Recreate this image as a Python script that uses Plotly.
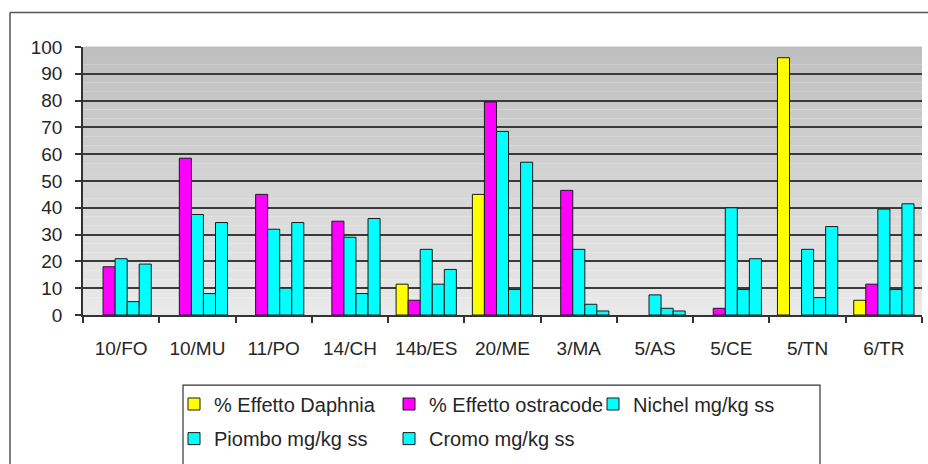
import plotly.graph_objects as go

categories = ["10/FO", "10/MU", "11/PO", "14/CH", "14b/ES", "20/ME", "3/MA", "5/AS", "5/CE", "5/TN", "6/TR"]
daphnia = [None, None, None, None, 11.5, 45, None, None, None, 96, 5.5]
ostracode = [18, 58.5, 45, 35, 5.5, 79.5, 46.5, None, 2.5, None, 11.5]
nichel = [21, 37.5, 32, 29, 24.5, 68.5, 24.5, 7.5, 40, 24.5, 39.5]
piombo = [5, 8, 10, 8, 11.5, 9.5, 4, 2.5, 9.5, 6.5, 9.5]
cromo = [19, 34.5, 34.5, 36, 17, 57, 1.5, 1.5, 21, 33, 41.5]
y_ticks = [0, 10, 20, 30, 40, 50, 60, 70, 80, 90, 100]

series = [
    ("% Effetto Daphnia", daphnia, "#ffff00", "legend"),
    ("% Effetto ostracode", ostracode, "#ff00ff", "legend"),
    ("Nichel mg/kg ss", nichel, "#00ffff", "legend3"),
    ("Piombo mg/kg ss", piombo, "#00ffff", "legend2"),
    ("Cromo mg/kg ss", cromo, "#00ffff", "legend2"),
]

W, H = 928, 464
L, R, T, B = 83, 6, 47, 146
pw, ph = W - L - R, H - T - B

def px_x(p):
    return (p - L) / pw

def px_y(p):
    return (H - B - p) / ph

fig = go.Figure()
for name, vals, color, lg in series:
    fig.add_trace(go.Bar(
        x=categories, y=vals, name=name, legend=lg,
        marker=dict(color=color, line=dict(color="#1a1a1a", width=1)),
    ))

shapes = []
n = 30
c_top, c_bot = 190, 234
for i in range(n):
    f = (i + 0.5) / n
    g = round(c_bot + (c_top - c_bot) * f)
    shapes.append(dict(type="rect", xref="x domain", yref="y domain",
                       x0=0, x1=1, y0=i / n, y1=(i + 1) / n,
                       fillcolor=f"rgb({g},{g},{g})", line=dict(width=0), layer="below"))
# hide the gridline at the top edge of the plot area
shapes.append(dict(type="rect", xref="x domain", yref="y domain",
                   x0=0.002, x1=1, y0=0.993, y1=1.002,
                   fillcolor=f"rgb({c_top},{c_top},{c_top})", line=dict(width=0), layer="above"))
# outer chart frame (left and top edges visible, the rest runs off the picture)
shapes.append(dict(type="line", xref="paper", yref="paper",
                   x0=px_x(10), x1=px_x(10), y0=px_y(500), y1=px_y(12),
                   line=dict(color="#555555", width=1.5)))
shapes.append(dict(type="line", xref="paper", yref="paper",
                   x0=px_x(10), x1=px_x(1000), y0=px_y(12), y1=px_y(12),
                   line=dict(color="#555555", width=1.5)))
# legend frame
shapes.append(dict(type="rect", xref="paper", yref="paper",
                   x0=px_x(183), x1=px_x(820), y0=px_y(475), y1=px_y(389),
                   line=dict(color="#333333", width=1.2), fillcolor="rgba(0,0,0,0)"))

font = dict(family="Liberation Sans, Arial, sans-serif", size=19, color="#262626")
lfont = dict(family="Liberation Sans, Arial, sans-serif", size=20, color="#262626")

legend_common = dict(orientation="h", xanchor="left", yanchor="middle",
                     bgcolor="rgba(0,0,0,0)", borderwidth=0, font=lfont,
                     entrywidth=170, entrywidthmode="pixels", traceorder="normal")

fig.update_layout(
    width=W, height=H, autosize=False,
    margin=dict(l=L, r=R, t=T, b=B, pad=0),
    paper_bgcolor="white", plot_bgcolor="rgba(0,0,0,0)",
    barmode="group", bargap=0.21, bargroupgap=0,
    font=font,
    shapes=shapes,
    legend=dict(x=px_x(174), y=px_y(408), **legend_common),
    legend3=dict(x=px_x(593), y=px_y(408), **legend_common),
    legend2=dict(x=px_x(174), y=px_y(443), **legend_common),
    xaxis=dict(type="category", tickson="boundaries", ticks="outside", ticklen=6,
               tickcolor="#333333", tickwidth=1.5, showline=True, linecolor="#333333",
               linewidth=1.5, showgrid=False, tickfont=font, ticklabelstandoff=15),
    yaxis=dict(range=[0, 100], tickvals=y_ticks, ticks="outside", ticklen=6,
               tickcolor="#333333", tickwidth=1.5, showline=True, linecolor="#333333",
               linewidth=1.5, showgrid=True, gridcolor="#3a3a3a", gridwidth=1.5,
               zeroline=False, tickfont=font, ticklabelstandoff=9),
)

fig.write_html("out.html", config={"displayModeBar": False},
               post_script="document.body.style.margin='0';document.body.style.overflow='hidden';")
